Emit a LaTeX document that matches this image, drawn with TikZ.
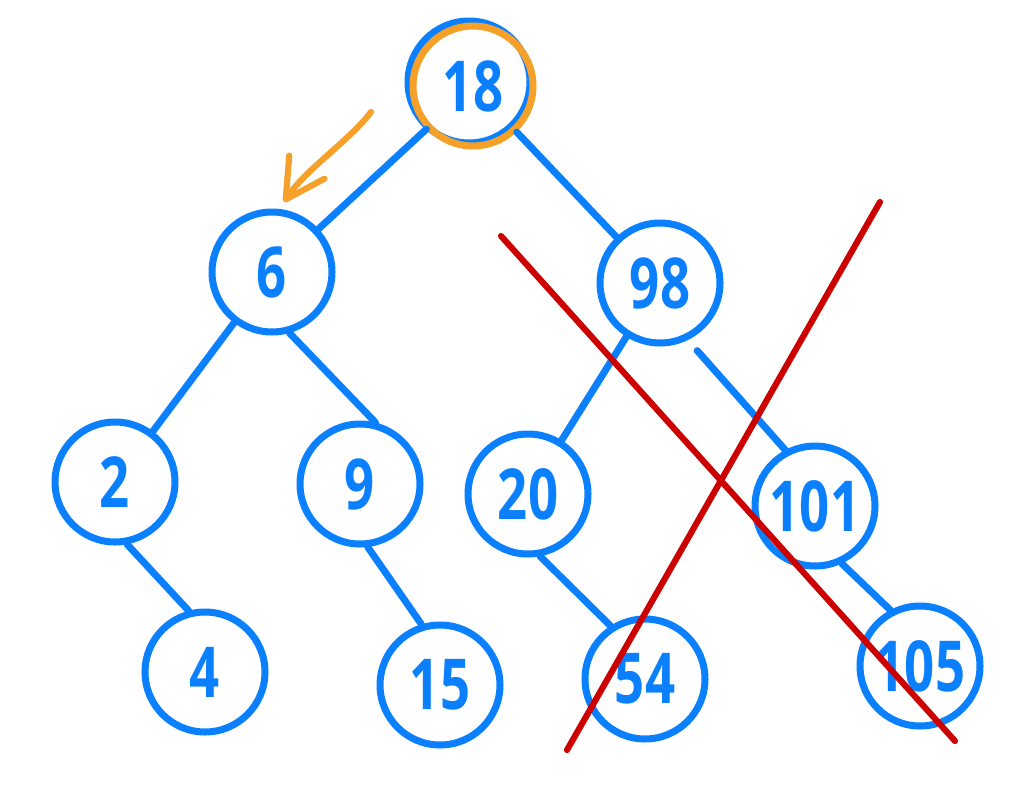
\documentclass[tikz,border=0pt]{standalone}
\usepackage{fontspec}
\setsansfont{Open Sans}[FakeStretch=0.75]
\usepackage{tikz}
\usetikzlibrary{arrows.meta}
\definecolor{treeblue}{RGB}{10, 128, 255}
\definecolor{rootorange}{RGB}{245, 160, 40}
\definecolor{cutred}{RGB}{205, 0, 0}

\begin{document}
\begin{tikzpicture}[x=0.02cm, y=-0.02cm,
    key/.style={circle, draw=treeblue, line width=4pt, minimum size=2.4cm, inner sep=0pt,
        text=treeblue, font=\sffamily\bfseries\fontsize{40}{40}\selectfont},
    branch/.style={treeblue, line width=4pt, line cap=round},
    cut/.style={cutred, line width=3.5pt, line cap=round}]
    \useasboundingbox (0,0) rectangle (1024,785);

    % Blue outline peeking out under the orange root
    \draw[treeblue, line width=4pt] (469,82) circle (1.22cm);

    % Keys
    \node[key, draw=rootorange] (n18) at (473,86) {18};
    \node[key] (n6) at (272,272) {6};
    \node[key] (n98) at (660,283) {98};
    \node[key] (n2) at (115,482) {2};
    \node[key] (n9) at (360,484) {9};
    \node[key] (n20) at (528,494) {20};
    \node[key] (n101) at (815,506) {101};
    \node[key] (n4) at (205,672) {4};
    \node[key] (n15) at (440,685) {15};
    \node[key] (n54) at (645,679) {54};
    \node[key] (n105) at (920,666) {105};

    % Branches
    \draw[branch] (n18) -- (n6);
    \draw[branch] (n18) -- (n98);
    \draw[branch] (n6) -- (n2);
    \draw[branch] (n6.-74) -- (n9.76);
    \draw[branch] (n98) -- (n20);
    \draw[branch, shorten <=8pt] (n98.-64) -- (n101.118);
    \draw[branch] (n2.-79) -- (n4.105);
    \draw[branch] (n9.-83) -- (n15.107);
    \draw[branch] (n20.-79) -- (n54.123);
    \draw[branch] (n101.-65) -- (n105.118);

    % Search goes left
    \coordinate (hintstart) at (371,112);
    \coordinate (hinttip) at (284,202);
    \draw[rootorange, line width=3.5pt, line cap=round,
        -{Straight Barb[length=22pt, width=24pt, round]}]
        (hintstart) .. controls (350,140) and (305,170) .. (hinttip);

    % Right subtree crossed out
    \coordinate (cutAstart) at (501,236);
    \coordinate (cutAend) at (955,741);
    \coordinate (cutBstart) at (880,202);
    \coordinate (cutBend) at (567,750);
    \draw[cut] (cutAstart) -- (cutAend);
    \draw[cut] (cutBstart) -- (cutBend);
\end{tikzpicture}
\end{document}
